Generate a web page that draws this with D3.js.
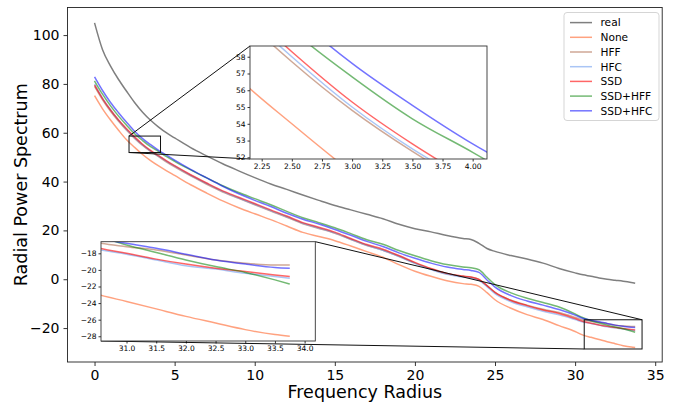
<!DOCTYPE html>
<html lang="en">
<head>
<meta charset="utf-8">
<title>Radial Power Spectrum</title>
<script src="https://cdn.jsdelivr.net/npm/d3@7"></script>
<style>
    body { margin: 0; background: #fff; }
    text { font-family: "DejaVu Sans", sans-serif; fill: #000; }
</style>
</head>
<body>
<svg id="chart" width="678" height="403"></svg>
<script>
// frequency radius sampled (finer where the insets zoom in)
const radius = [0, 0.5, 1, 1.5, 2, 2.5, 3, 3.5, 4, 4.5, 5,
    6, 7, 8, 9, 10, 11, 12, 13, 14, 15, 16, 17, 18, 19, 20, 21, 22, 23,
    23.5, 24, 24.5, 25, 26, 27, 28, 29, 30,
    30.5, 31, 31.5, 32, 32.5, 33, 33.5, 33.75];

const real = [105.0, 94.0, 87.3, 81.8, 77.0, 72.4, 68.4, 65.1, 62.3, 59.9, 57.9,
    53.9, 50.5, 47.3, 44.4, 41.6, 39.0, 36.8, 34.5, 32.3, 30.2, 28.4, 26.6, 24.8, 22.5, 20.7, 19.4, 17.9, 16.7,
    16.3, 14.7, 12.6, 11.4, 9.7, 8.3, 6.6, 4.4, 2.6,
    1.8, 1.2, 0.5, 0.0, -0.4, -0.8, -1.3, -1.6];
const none = [75.2, 69.8, 65.2, 61.0, 57.1, 54.0, 51.1, 48.6, 46.4, 44.4, 42.5,
    38.7, 35.3, 32.1, 29.3, 26.8, 24.4, 21.8, 19.2, 17.5, 15.8, 13.6, 11.3, 9.0, 6.0, 3.3, 1.2, -0.6, -1.8,
    -2.1, -2.9, -5.5, -8.4, -11.9, -14.5, -16.5, -19.0, -21.4,
    -22.9, -23.8, -24.7, -25.6, -26.4, -27.2, -27.8, -28.0];
const hff = [79.0, 73.5, 68.8, 64.7, 61.0, 57.7, 54.8, 52.35, 50.2, 48.0, 46.0,
    42.3, 38.9, 35.7, 33.1, 30.5, 27.9, 25.4, 22.7, 20.8, 18.8, 16.3, 13.8, 11.9, 9.4, 6.6, 4.2, 2.2, 1.2,
    0.8, -0.1, -2.6, -5.4, -8.6, -10.6, -12.3, -13.6, -15.6,
    -16.7, -17.2, -17.6, -18.2, -18.8, -19.2, -19.4, -19.4];
const hfc = [80.0, 74.2, 69.4, 65.1, 61.3, 58.0, 55.0, 52.5, 50.4, 48.3, 46.3,
    42.6, 39.2, 36.0, 33.3, 30.7, 28.1, 25.6, 22.9, 21.0, 19.0, 16.4, 13.9, 11.9, 9.3, 6.5, 4.0, 2.0, 0.9,
    0.5, -0.5, -3.0, -5.9, -9.2, -11.3, -13.1, -14.6, -16.5,
    -17.5, -18.1, -18.8, -19.5, -19.9, -20.4, -20.8, -21.0];
const ssd = [79.5, 74.0, 69.3, 65.2, 61.6, 58.3, 55.3, 52.8, 50.6, 48.5, 46.5,
    42.8, 39.4, 36.2, 33.6, 31.0, 28.4, 25.9, 23.2, 21.3, 19.3, 16.7, 14.2, 12.3, 9.7, 6.9, 4.4, 2.4, 1.3,
    0.9, -0.1, -2.6, -5.4, -8.7, -10.8, -12.6, -14.0, -16.1,
    -17.3, -18.0, -18.7, -19.3, -19.8, -20.2, -20.6, -20.8];
const ssdHff = [81.2, 75.8, 71.0, 66.8, 63.1, 59.6, 56.8, 54.3, 52.3, 50.2, 48.3,
    44.8, 41.5, 38.3, 35.5, 33.0, 30.5, 27.8, 25.2, 23.2, 21.1, 18.7, 16.2, 14.3, 11.8, 9.6, 7.6, 6.0, 5.0,
    4.7, 3.9, 0.8, -2.2, -5.6, -7.8, -9.5, -11.4, -14.2,
    -15.8, -17.0, -17.9, -18.8, -19.6, -20.3, -21.2, -21.7];
const ssdHfc = [82.9, 77.3, 72.4, 68.2, 64.3, 60.6, 57.6, 55.1, 52.8, 50.8, 48.8,
    45.0, 41.5, 38.1, 35.0, 32.3, 29.8, 27.0, 24.6, 22.6, 20.4, 18.0, 15.5, 13.4, 10.8, 8.6, 6.6, 5.0, 4.0,
    3.6, 2.8, -0.3, -3.2, -6.7, -8.9, -10.6, -12.4, -14.7,
    -16.1, -16.8, -17.4, -18.1, -18.8, -19.3, -19.7, -19.8];

const seriesNames = ["real", "None", "HFF", "HFC", "SSD", "SSD+HFF", "SSD+HFC"];
const seriesValues = [real, none, hff, hfc, ssd, ssdHff, ssdHfc];
const seriesColors = ["black", "orangered", "sienna", "cornflowerblue", "red", "green", "blue"];
const seriesAlpha = [0.5, 0.5, 0.5, 0.55, 0.6, 0.55, 0.55];

const xTicks = [0, 5, 10, 15, 20, 25, 30, 35];
const yTicks = [-20, 0, 20, 40, 60, 80, 100];

// zoomed windows
const topZoomX = [2.153, 4.119], topZoomY = [51.9, 58.64];
const topZoomXTicks = [2.25, 2.5, 2.75, 3.0, 3.25, 3.5, 3.75, 4.0];
const topZoomYTicks = [52, 53, 54, 55, 56, 57, 58];
const lowZoomX = [30.57, 34.18], lowZoomY = [-28.57, -16.6];
const lowZoomXTicks = [31, 31.5, 32, 32.5, 33, 33.5, 34];
const lowZoomYTicks = [-28, -26, -24, -22, -20, -18];

var series = seriesNames.map(function(name, i) {
    return {
        name: name, color: seriesColors[i], alpha: seriesAlpha[i],
        points: radius.map(function(r, j) { return [r, seriesValues[i][j]]; })
    };
});

var svg = d3.select("#chart");
var plot = { left: 67.5, right: 662.2, top: 7.5, bottom: 362 };

var x = d3.scaleLinear().domain([-1.6875, 35.4375]).range([plot.left, plot.right]);
var y = d3.scaleLinear().domain([-33.9, 111.3]).range([plot.bottom, plot.top]);

function styleAxis(g, size) {
    g.select(".domain").remove();
    g.selectAll(".tick line").attr("stroke", "#000").attr("stroke-width", 0.8);
    g.selectAll(".tick text").attr("font-size", size).attr("font-family", "DejaVu Sans");
}

// main axes
svg.append("g")
    .attr("transform", "translate(0," + plot.bottom + ")")
    .call(d3.axisBottom(x).tickValues(xTicks).tickSize(4).tickPadding(4).tickFormat(d3.format("d")))
    .call(styleAxis, 14);

svg.append("g")
    .attr("transform", "translate(" + plot.left + ",0)")
    .call(d3.axisLeft(y).tickValues(yTicks).tickSize(4).tickPadding(4).tickFormat(d3.format("d")))
    .call(styleAxis, 14);

svg.append("text")
    .attr("x", (plot.left + plot.right) / 2).attr("y", 398)
    .attr("text-anchor", "middle").attr("font-size", 17.5)
    .text("Frequency Radius");

svg.append("text")
    .attr("transform", "translate(27," + (plot.top + plot.bottom) / 2 + ") rotate(-90)")
    .attr("text-anchor", "middle").attr("font-size", 17.5)
    .text("Radial Power Spectrum");

svg.append("clipPath").attr("id", "mainClip")
    .append("rect")
    .attr("x", plot.left).attr("y", plot.top)
    .attr("width", plot.right - plot.left).attr("height", plot.bottom - plot.top);

var mainLine = d3.line()
    .x(function(d) { return x(d[0]); })
    .y(function(d) { return y(d[1]); })
    .curve(d3.curveMonotoneX);

svg.append("g").attr("clip-path", "url(#mainClip)")
    .selectAll("path")
    .data(series)
    .enter()
    .append("path")
    .attr("d", function(d) { return mainLine(d.points); })
    .attr("fill", "none")
    .attr("stroke", function(d) { return d.color; })
    .attr("stroke-opacity", function(d) { return d.alpha; })
    .attr("stroke-width", 1.5);

svg.append("rect")
    .attr("x", plot.left).attr("y", plot.top)
    .attr("width", plot.right - plot.left).attr("height", plot.bottom - plot.top)
    .attr("fill", "none").attr("stroke", "#222").attr("stroke-width", 0.9);

// legend
var legend = svg.append("g");
legend.append("rect")
    .attr("x", 564).attr("y", 12.5).attr("width", 95).attr("height", 108).attr("rx", 3)
    .attr("fill", "#fff").attr("fill-opacity", 0.8)
    .attr("stroke", "#d0d0d0").attr("stroke-width", 0.9);

var item = legend.selectAll(".item")
    .data(series)
    .enter()
    .append("g")
    .attr("class", "item")
    .attr("transform", function(d, i) { return "translate(0," + (22.6 + i * 14.7) + ")"; });

item.append("line")
    .attr("x1", 570).attr("x2", 592)
    .attr("stroke", function(d) { return d.color; })
    .attr("stroke-opacity", function(d) { return d.alpha; })
    .attr("stroke-width", 1.5);

item.append("text")
    .attr("x", 600.5).attr("dy", "0.36em")
    .attr("font-size", 10.6)
    .text(function(d) { return d.name; });

// zoom rectangles + connectors on the main axes
function markZoom(xd, yd, box, corners) {
    var rx0 = x(xd[0]), rx1 = x(xd[1]), ry0 = y(yd[1]), ry1 = y(yd[0]);
    svg.append("rect")
        .attr("x", rx0).attr("y", ry0).attr("width", rx1 - rx0).attr("height", ry1 - ry0)
        .attr("fill", "none").attr("stroke", "#111").attr("stroke-width", 1);

    var rc = { ul: [rx0, ry0], ur: [rx1, ry0], ll: [rx0, ry1], lr: [rx1, ry1] };
    var bc = {
        ul: [box.x0, box.y0], ur: [box.x1, box.y0],
        ll: [box.x0, box.y1], lr: [box.x1, box.y1]
    };
    corners.forEach(function(c) {
        svg.append("line")
            .attr("x1", rc[c][0]).attr("y1", rc[c][1])
            .attr("x2", bc[c][0]).attr("y2", bc[c][1])
            .attr("stroke", "#111").attr("stroke-width", 1);
    });
}

function drawInset(box, xd, yd, xt, yt, xfmt, id) {
    var ix = d3.scaleLinear().domain(xd).range([box.x0, box.x1]);
    var iy = d3.scaleLinear().domain(yd).range([box.y1, box.y0]);
    var g = svg.append("g");

    g.append("rect")
        .attr("x", box.x0).attr("y", box.y0)
        .attr("width", box.x1 - box.x0).attr("height", box.y1 - box.y0)
        .attr("fill", "#fff");

    g.append("clipPath").attr("id", id)
        .append("rect")
        .attr("x", box.x0).attr("y", box.y0)
        .attr("width", box.x1 - box.x0).attr("height", box.y1 - box.y0);

    var insetLine = d3.line()
        .x(function(d) { return ix(d[0]); })
        .y(function(d) { return iy(d[1]); })
        .curve(d3.curveMonotoneX);

    g.append("g").attr("clip-path", "url(#" + id + ")")
        .selectAll("path")
        .data(series)
        .enter()
        .append("path")
        .attr("d", function(d) { return insetLine(d.points); })
        .attr("fill", "none")
        .attr("stroke", function(d) { return d.color; })
        .attr("stroke-opacity", function(d) { return d.alpha; })
        .attr("stroke-width", 1.5);

    g.append("g")
        .attr("transform", "translate(0," + box.y1 + ")")
        .call(d3.axisBottom(ix).tickValues(xt).tickSize(2.5).tickPadding(2).tickFormat(d3.format(xfmt)))
        .call(styleAxis, 7.5);

    g.append("g")
        .attr("transform", "translate(" + box.x0 + ",0)")
        .call(d3.axisLeft(iy).tickValues(yt).tickSize(2.5).tickPadding(2).tickFormat(d3.format("d")))
        .call(styleAxis, 7.5);

    g.append("rect")
        .attr("x", box.x0).attr("y", box.y0)
        .attr("width", box.x1 - box.x0).attr("height", box.y1 - box.y0)
        .attr("fill", "none").attr("stroke", "#333").attr("stroke-width", 0.9);
}

var topBox = { x0: 250, x1: 487, y0: 46, y1: 159 };
var lowBox = { x0: 101, x1: 315.3, y0: 241.7, y1: 341 };

markZoom(topZoomX, topZoomY, topBox, ["ul", "ll"]);
markZoom(lowZoomX, lowZoomY, lowBox, ["ur", "ll"]);

drawInset(topBox, topZoomX, topZoomY, topZoomXTicks, topZoomYTicks, ".2f", "topClip");
drawInset(lowBox, lowZoomX, lowZoomY, lowZoomXTicks, lowZoomYTicks, ".1f", "lowClip");
</script>
</body>
</html>
